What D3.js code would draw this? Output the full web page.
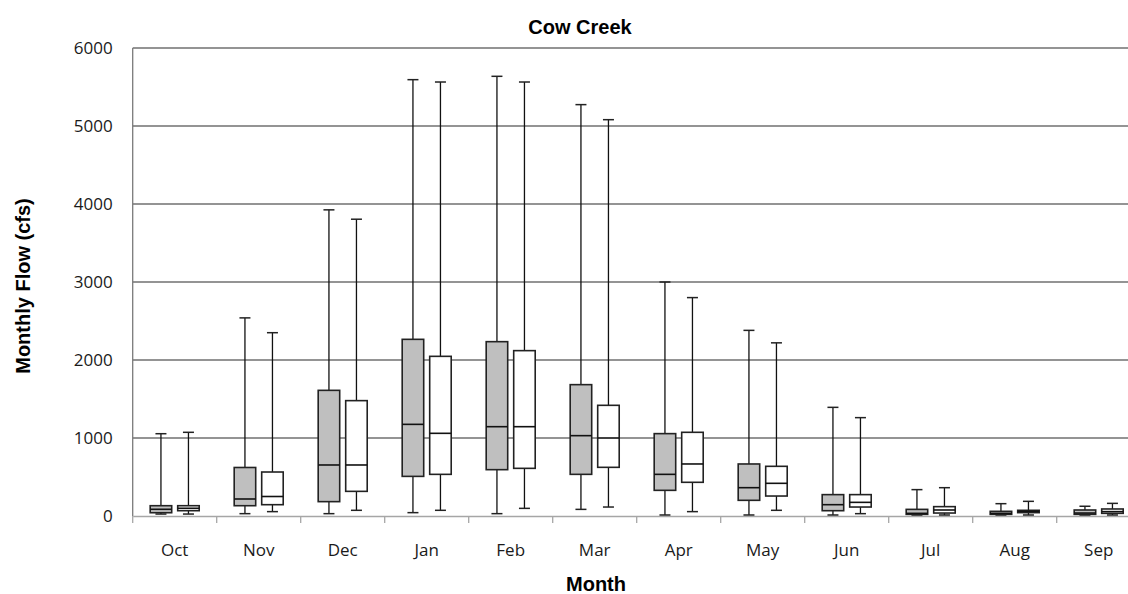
<!DOCTYPE html>
<html><head><meta charset="utf-8">
<script src="https://cdn.jsdelivr.net/npm/d3@7"></script>
<style>
html,body{margin:0;padding:0;background:#fff;}
svg{display:block;}
</style></head>
<body>
<svg id="chart" width="1128" height="594"></svg>
<script>
const months = ["Oct","Nov","Dec","Jan","Feb","Mar","Apr","May","Jun","Jul","Aug","Sep"];
const seriesNames = ["gray","white"];
const yTicks = [0,1000,2000,3000,4000,5000,6000];
// gray series: [min, q1, median, q3, max]
const grayMin = [25, 30, 30, 43, 30, 85, 13, 13, 13, 13, 13, 13];
const grayQ1  = [42, 132, 184, 508, 594, 534, 329, 201, 68, 21, 21, 21];
const grayMed = [86, 218, 654, 1175, 1145, 1030, 534, 363, 145, 34, 34, 38];
const grayQ3  = [132, 622, 1611, 2265, 2235, 1684, 1056, 667, 274, 85, 60, 77];
const grayMax = [1055, 2540, 3925, 5594, 5637, 5274, 3000, 2380, 1393, 338, 158, 125];
// white series
const whiteMin = [25, 56, 73, 73, 98, 115, 56, 73, 30, 13, 13, 13];
const whiteQ1  = [68, 145, 316, 534, 611, 624, 432, 256, 115, 38, 43, 34];
const whiteMed = [99, 250, 654, 1060, 1145, 1000, 667, 419, 175, 77, 60, 56];
const whiteQ3  = [132, 564, 1479, 2047, 2120, 1419, 1073, 637, 274, 120, 73, 90];
const whiteMax = [1073, 2350, 3805, 5564, 5564, 5081, 2800, 2220, 1261, 363, 188, 162];

const svg = d3.select("#chart");
const plotLeft = 132.7, plotTop = 48, plotBottom = 516, plotRight = plotLeft + 84*12;
const x = d3.scaleBand().domain(months).range([plotLeft, plotRight]).padding(0);
const xs = d3.scaleBand().domain(seriesNames).range([0, x.bandwidth()]).paddingInner(0.218).paddingOuter(0.636);
const y = d3.scaleLinear().domain([0, 6000]).range([plotBottom, plotTop]);

// gridlines
svg.append("g").selectAll("line").data(yTicks.filter(d => d > 0)).join("line")
  .attr("x1", plotLeft).attr("x2", plotRight)
  .attr("y1", d => y(d)).attr("y2", d => y(d))
  .attr("stroke", "#2b2b2b").attr("stroke-width", 1.2);

// y axis line
svg.append("line").attr("x1", plotLeft).attr("x2", plotLeft).attr("y1", plotTop).attr("y2", plotBottom)
  .attr("stroke", "#7a7a7a").attr("stroke-width", 1.3);

// x axis
const xAxis = d3.axisBottom(x).tickSize(0).tickFormat(d => d);
const gx = svg.append("g").attr("transform", `translate(0,${plotBottom})`).call(xAxis);
gx.select(".domain").attr("stroke", "#a6a6a6").attr("stroke-width", 1.3);
gx.selectAll("text").attr("dy", null).attr("y", 40)
  .style("font-family", "'Open Sans', sans-serif").style("font-size", "17px").attr("fill", "#1a1a1a");
// tick marks at band boundaries
const bounds = months.map(m => x(m)).concat([plotRight]);
svg.append("g").selectAll("line").data(bounds).join("line")
  .attr("x1", d => d).attr("x2", d => d).attr("y1", plotBottom).attr("y2", plotBottom + 7)
  .attr("stroke", "#a6a6a6").attr("stroke-width", 1.3);

// y axis labels
const yAxis = d3.axisLeft(y).tickValues(yTicks).tickSize(0).tickPadding(20).tickFormat(d3.format("d"));
const gy = svg.append("g").attr("transform", `translate(${plotLeft},0)`).call(yAxis);
gy.select(".domain").remove();
gy.selectAll("text").style("font-family", "'Open Sans', sans-serif").style("font-size", "17px").attr("fill", "#1a1a1a");

// boxes
const series = [
  {name: "gray", fill: "#bfbfbf", min: grayMin, q1: grayQ1, med: grayMed, q3: grayQ3, max: grayMax},
  {name: "white", fill: "#ffffff", min: whiteMin, q1: whiteQ1, med: whiteMed, q3: whiteQ3, max: whiteMax}
];
const capHalf = 5.5;
series.forEach(s => {
  const g = svg.append("g");
  months.forEach((m, i) => {
    const x0 = x(m) + xs(s.name);
    const bw = xs.bandwidth();
    const cx = x0 + bw / 2;
    g.append("line").attr("x1", cx).attr("x2", cx).attr("y1", y(s.max[i])).attr("y2", y(s.q3[i]))
      .attr("stroke", "#111").attr("stroke-width", 1.3);
    g.append("line").attr("x1", cx).attr("x2", cx).attr("y1", y(s.q1[i])).attr("y2", y(s.min[i]))
      .attr("stroke", "#111").attr("stroke-width", 1.3);
    g.append("line").attr("x1", cx - capHalf).attr("x2", cx + capHalf).attr("y1", y(s.max[i])).attr("y2", y(s.max[i]))
      .attr("stroke", "#222").attr("stroke-width", 1.5);
    g.append("line").attr("x1", cx - capHalf).attr("x2", cx + capHalf).attr("y1", y(s.min[i])).attr("y2", y(s.min[i]))
      .attr("stroke", "#222").attr("stroke-width", 1.5);
    g.append("rect").attr("x", x0).attr("width", bw)
      .attr("y", y(s.q3[i])).attr("height", Math.max(1, y(s.q1[i]) - y(s.q3[i])))
      .attr("fill", s.fill).attr("stroke", "#222").attr("stroke-width", 1.6);
    g.append("line").attr("x1", x0).attr("x2", x0 + bw).attr("y1", y(s.med[i])).attr("y2", y(s.med[i]))
      .attr("stroke", "#111").attr("stroke-width", 1.6);
  });
});

// titles
const boldFont = "'Liberation Sans', Arial, sans-serif";
svg.append("text").attr("x", 580).attr("y", 34).attr("text-anchor", "middle")
  .style("font-family", boldFont).style("font-weight", "bold").style("font-size", "20px")
  .text("Cow Creek");
svg.append("text").attr("x", 596).attr("y", 591).attr("text-anchor", "middle")
  .style("font-family", boldFont).style("font-weight", "bold").style("font-size", "20px")
  .text("Month");
svg.append("text").attr("transform", "translate(30,286) rotate(-90)").attr("text-anchor", "middle")
  .style("font-family", boldFont).style("font-weight", "bold").style("font-size", "20px")
  .text("Monthly Flow (cfs)");
</script>
</body></html>
